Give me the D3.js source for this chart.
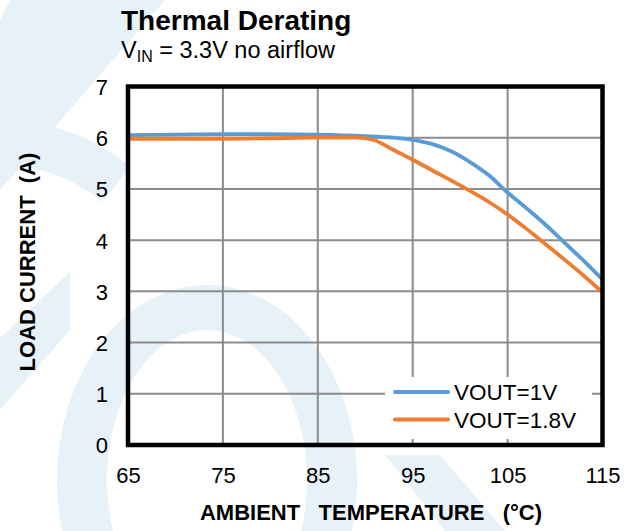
<!DOCTYPE html>
<html><head><meta charset="utf-8">
<script src="https://cdn.jsdelivr.net/npm/d3@7"></script>
<style>
body{margin:0;background:#fff}
svg{display:block}
text{font-family:"Liberation Sans",Arial,Helvetica,sans-serif;fill:#000}
</style>
</head><body>
<svg id="c" width="635" height="531"></svg>
<script>
// ---- data ----
const tempsA = [65, 70, 75, 80, 85, 90, 93, 95, 97, 99, 101, 103, 105, 107, 109, 111, 113, 115];
const vout1V = [6.05, 6.06, 6.07, 6.07, 6.06, 6.03, 6.0, 5.96, 5.88, 5.74, 5.53, 5.27, 4.93, 4.62, 4.30, 3.95, 3.60, 3.23];
const tempsB = [65, 70, 75, 80, 85, 89, 91, 92, 93, 95, 97, 100, 103, 105, 107, 109, 111, 113, 115];
const vout18V = [5.98, 5.98, 5.98, 5.99, 6.0, 6.0, 5.95, 5.86, 5.76, 5.57, 5.37, 5.07, 4.75, 4.50, 4.22, 3.92, 3.62, 3.31, 2.98];
const seriesNames = ["VOUT=1V", "VOUT=1.8V"];
const seriesColors = ["#5B9BD5", "#ED7D31"];
const xTicks = [65, 75, 85, 95, 105, 115];
const yTicks = [0, 1, 2, 3, 4, 5, 6, 7];

const svg = d3.select("#c");

// ---- watermark background ----
const wm = svg.append("g").attr("fill", "#e6f1f8");
wm.append("path").attr("d", "M10,0 L165,0 L0,190 L0,20 Z");
const arcL = d3.arc().innerRadius(160).outerRadius(205).startAngle(-Math.PI/2).endAngle(Math.PI*0.22);
wm.append("path").attr("transform", "translate(0,325)").attr("d", arcL());
wm.append("path").attr("d", "M0,338 L70,272 L70,330 L0,410 Z");
wm.append("path").attr("fill-rule", "evenodd")
  .attr("d", "M57,480 a150,195 0 1,0 300,0 a150,195 0 1,0 -300,0 Z M107,480 a100,150 0 1,0 200,0 a100,150 0 1,0 -200,0 Z");
wm.append("path").attr("d", "M385,455 L440,455 L505,531 L445,531 Z");

// ---- scales ----
const x = d3.scaleLinear().domain([65, 115]).range([128, 602.5]);
const y = d3.scaleLinear().domain([0, 7]).range([445, 86.5]);

// gridlines
const grid = svg.append("g").attr("stroke", "#8c8c8c").attr("stroke-width", 2);
grid.selectAll(".gx").data(xTicks.slice(1, -1)).join("line")
  .attr("x1", d => x(d)).attr("x2", d => x(d)).attr("y1", y(7)).attr("y2", y(0));
grid.selectAll(".gy").data(yTicks.slice(1, -1)).join("line")
  .attr("x1", x(65)).attr("x2", x(115)).attr("y1", d => y(d)).attr("y2", d => y(d));

// lines
const line = d3.line().curve(d3.curveMonotoneX).x(d => x(d[0])).y(d => y(d[1]));
const series = [d3.zip(tempsA, vout1V), d3.zip(tempsB, vout18V)];
svg.append("g").selectAll("path").data(series).join("path")
  .attr("d", line).attr("fill", "none")
  .attr("stroke", (d, i) => seriesColors[i]).attr("stroke-width", 3.8)
  .attr("stroke-linejoin", "round");

// legend
const lg = svg.append("g");
lg.append("rect").attr("x", 385).attr("y", 377).attr("width", 207).attr("height", 62).attr("fill", "#fff");
seriesNames.forEach((n, i) => {
  const yy = 392 + i * 27.5;
  lg.append("line").attr("x1", 395).attr("x2", 448).attr("y1", yy).attr("y2", yy)
    .attr("stroke", seriesColors[i]).attr("stroke-width", 4).attr("stroke-linecap", "round");
  lg.append("text").attr("x", 454).attr("y", yy).attr("dy", "0.36em")
    .attr("font-size", 22.5).text(n);
});

// frame
svg.append("rect").attr("x", x(65)).attr("y", y(7)).attr("width", x(115) - x(65)).attr("height", y(0) - y(7))
  .attr("fill", "none").attr("stroke", "#000").attr("stroke-width", 4.5);

// axes (labels only)
const xAxis = d3.axisBottom(x).tickValues(xTicks).tickFormat(d3.format("d")).tickSize(0).tickPadding(0);
const gx = svg.append("g").attr("transform", "translate(0,483)").call(xAxis);
gx.select(".domain").remove();
gx.selectAll("text").attr("font-size", 22).attr("dy", 0).attr("font-family", null).style("fill", "#000");

const yAxis = d3.axisLeft(y).tickValues(yTicks).tickFormat(d3.format("d")).tickSize(0).tickPadding(0);
const gy = svg.append("g").attr("transform", "translate(108,0)").call(yAxis);
gy.select(".domain").remove();
gy.selectAll("text").attr("font-size", 22).attr("dy", "0.36em").attr("font-family", null).style("fill", "#000");

// titles
svg.append("text").attr("x", 121).attr("y", 30).attr("font-size", 28).attr("font-weight", "bold").text("Thermal Derating");
const sub = svg.append("text").attr("x", 121).attr("y", 57.5).attr("font-size", 23.5);
sub.append("tspan").text("V");
sub.append("tspan").attr("font-size", 16).attr("dy", 4).text("IN");
sub.append("tspan").attr("dy", -4).text(" = 3.3V no airflow");

svg.append("text").attr("x", 371).attr("y", 520).attr("text-anchor", "middle")
  .attr("font-size", 22).attr("font-weight", "bold").style("white-space", "pre")
  .text("AMBIENT   TEMPERATURE   (°C)");
svg.append("text").attr("transform", "translate(35,262) rotate(-90)").attr("text-anchor", "middle")
  .attr("font-size", 22).attr("font-weight", "bold").style("white-space", "pre")
  .text("LOAD CURRENT  (A)");
</script>
</body></html>
